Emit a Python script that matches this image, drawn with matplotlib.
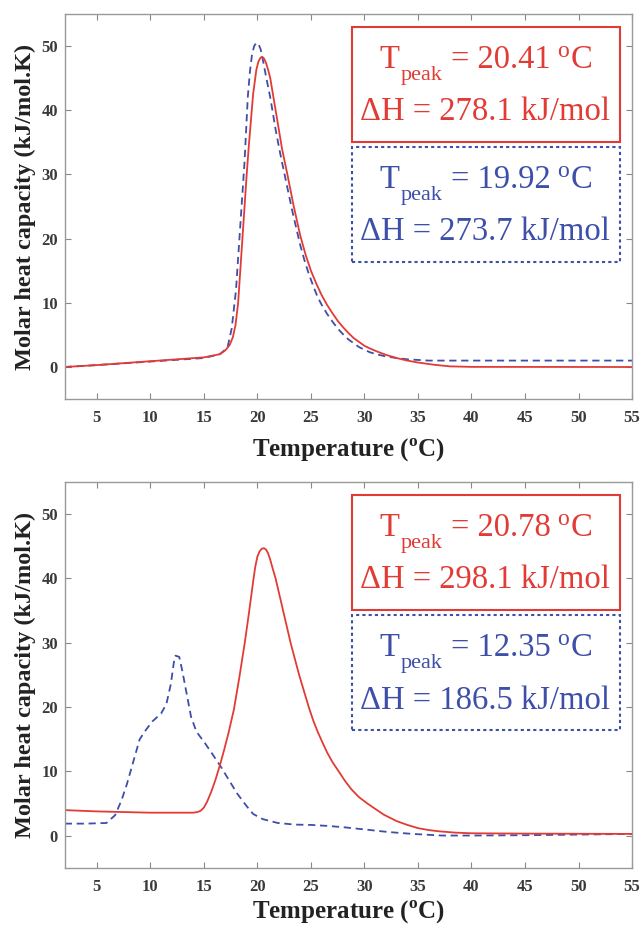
import numpy as np
import matplotlib
matplotlib.use('Agg')
import matplotlib.pyplot as plt
import matplotlib.transforms as mtransforms
from matplotlib.patches import Rectangle

plt.rcParams['font.family'] = ['Liberation Serif', 'DejaVu Serif']
plt.rcParams['mathtext.fontset'] = 'custom'
plt.rcParams['mathtext.rm'] = 'Liberation Serif'
plt.rcParams['mathtext.bf'] = 'Liberation Serif:bold'

RED = '#e23b35'
BLUE = '#3d4fa8'

# top panel, red solid curve
t_top_red = [2, 5, 10, 15, 16.5, 17.0, 17.4, 17.7, 17.95, 18.2, 18.4, 18.6, 18.8, 19.0, 19.2,
             19.4, 19.6, 19.9, 20.1, 20.3, 20.45, 20.6, 20.8, 21.0, 21.2, 21.7, 22.3, 22.8,
             23.4, 24.0, 24.5, 25.0, 25.5, 26.0, 26.5, 27.0, 27.5, 28.0, 28.5, 29.0, 29.5,
             30.0, 30.5, 31.2, 32, 33, 34, 35, 36.5, 38, 40, 55]
cp_top_red = [0, 0.3, 0.9, 1.5, 2.0, 2.6, 3.4, 4.6, 6.5, 10, 15, 20, 25, 30, 34.5,
              38.5, 42.5, 46.3, 47.6, 48.2, 48.3, 48.1, 47.4, 46.3, 45.0, 40, 34, 30,
              25, 20.5, 17.5, 15, 13, 11.2, 9.7, 8.4, 7.2, 6.2, 5.3, 4.5, 3.9,
              3.3, 2.9, 2.4, 1.9, 1.4, 1.0, 0.7, 0.35, 0.1, 0.02, 0]

# top panel, blue dashed curve
t_top_blue = [2, 5, 10, 15, 16.5, 17.2, 17.6, 18.0, 18.4, 18.8, 19.1, 19.3, 19.5, 19.7, 19.9,
              20.1, 20.3, 20.55, 20.8, 21.2, 21.7, 22.1, 22.6, 23.3, 24.0, 24.4, 24.8, 25.2,
              25.6, 26.0, 26.5, 27.0, 27.5, 28, 28.5, 29, 29.5, 30, 30.5, 31.2, 32, 33, 34,
              35, 36, 55]
cp_top_blue = [0, 0.3, 0.85, 1.4, 2.0, 3.0, 6, 12, 22, 32, 42, 46, 48.7, 50.0, 50.5,
               50.3, 49.5, 47.5, 45.3, 42, 37, 33.5, 29.5, 24, 19, 16.6, 14.5, 12.7,
               11, 9.7, 8.3, 7.1, 6, 5.1, 4.3, 3.7, 3.1, 2.7, 2.3, 1.95, 1.65, 1.4, 1.2,
               1.1, 1.0, 1.0]

# bottom panel, red solid curve
t_bot_red = [2, 5, 10, 14, 14.4, 14.7, 15.0, 15.3, 15.7, 16.1, 16.5, 16.9, 17.3, 17.8, 18.3,
             18.8, 19.2, 19.6, 19.8, 20.0, 20.2, 20.4, 20.6, 20.8, 21.0, 21.2, 21.4, 21.7,
             22.4, 23.1, 23.9, 24.8, 25.2, 25.6, 26.0, 26.5, 27.0, 27.6, 28.2, 28.8, 29.5,
             30.3, 31, 31.8, 33, 34, 35, 36, 37, 38.5, 40, 45, 55]
cp_bot_red = [4.0, 3.8, 3.6, 3.6, 3.7, 3.9, 4.4, 5.3, 6.9, 8.8, 11.0, 13.4, 16.0, 19.6, 24.5,
              29.8, 34.5, 39.5, 41.8, 43.4, 44.2, 44.6, 44.7, 44.5, 43.9, 42.9, 41.7, 40,
              35, 30, 25, 20, 18, 16.3, 14.8, 13, 11.5, 10, 8.5, 7.2, 6,
              5, 4.2, 3.3, 2.3, 1.7, 1.2, 0.9, 0.7, 0.5, 0.4, 0.35, 0.3]

# bottom panel, blue dashed curve
t_bot_blue = [2, 4, 5.9, 6.7, 7.3, 7.8, 8.4, 9.0, 9.6, 10.2, 11.0, 11.5, 11.9, 12.2, 12.35,
              12.7, 13.0, 13.4, 13.8, 14.3, 15.1, 15.8, 16.6, 17.4, 18.1, 19.0, 19.6, 20.5,
              21.9, 23.5, 25, 26.5, 28, 30, 32.2, 34.5, 37.2, 40, 45, 50, 55]
cp_bot_blue = [1.9, 1.9, 2.0, 3.2, 5.5, 8, 11.5, 15, 16.5, 17.8, 19, 20.5, 23.5, 27, 28,
               27.8, 25.5, 22, 18.5, 16.2, 14.4, 12.7, 10.7, 8.5, 6.6, 4.6, 3.4, 2.6,
               2.0, 1.75, 1.7, 1.55, 1.35, 1.0, 0.6, 0.3, 0.05, 0.05, 0.1, 0.2, 0.3]

labels_top = [('20.41', '278.1'), ('19.92', '273.7')]
labels_bot = [('20.78', '298.1'), ('12.35', '186.5')]

x_ticks = [5, 10, 15, 20, 25, 30, 35, 40, 45, 50, 55]
y_ticks = [0, 10, 20, 30, 40, 50]


def draw_pieces(ax, xc, y, pieces, col):
    # pieces: (text, fontsize, dy in px, gap after in px), centred as one line
    fig = ax.figure
    r = fig.canvas.get_renderer()
    texts = []
    widths = []
    for s, size, dy, gap in pieces:
        t = ax.text(xc, y, s, fontsize=size, color=col, ha='left', va='baseline',
                    transform=ax.transAxes, zorder=6)
        texts.append(t)
        widths.append(t.get_window_extent(r).width + gap)
    total = sum(widths) - pieces[-1][3]
    dx = -total / 2
    for t, w, p in zip(texts, widths, pieces):
        t.set_transform(mtransforms.offset_copy(ax.transAxes, fig=fig, x=dx, y=p[2], units='dots'))
        dx += w


def draw_panel(ax, tr, cr, tb, cb, labels, xpad):
    ax.plot(tb, cb, color=BLUE, lw=1.3, dashes=(4, 2.6))
    ax.plot(tr, cr, color=RED, lw=1.3)
    ax.set_xlim(2, 55)
    ax.set_ylim(-5, 55)
    ax.set_xticks(x_ticks)
    ax.set_yticks(y_ticks)
    ax.tick_params(direction='in', top=True, right=True, length=4, width=0.8,
                   color='#888888', labelsize=12, labelcolor='#3a3a3a', pad=5)
    ax.tick_params(axis='x', pad=8)
    for lab in ax.get_xticklabels() + ax.get_yticklabels():
        lab.set_fontweight('bold')
    for sp in ax.spines.values():
        sp.set_color('#999999')
        sp.set_linewidth(1.0)
    ax.set_xlabel('Temperature ($^{\\mathbf{o}}$C)', fontsize=18, fontweight='bold',
                  color='#222222', labelpad=xpad)
    ax.set_ylabel('Molar heat capacity (kJ/mol.K)', fontsize=17.5, fontweight='bold',
                  color='#222222', labelpad=4)

    # annotation boxes
    ax.add_patch(Rectangle((0.507, 0.668), 0.472, 0.299, transform=ax.transAxes,
                           fill=False, edgecolor=RED, lw=1.5, zorder=5))
    ax.add_patch(Rectangle((0.507, 0.357), 0.472, 0.298, transform=ax.transAxes,
                           fill=False, edgecolor=BLUE, lw=1.5, ls=(0, (1.5, 1.5)), zorder=5))
    for (tp, dh), col, y1, y2 in [(labels[0], RED, 0.860, 0.725), (labels[1], BLUE, 0.548, 0.413)]:
        draw_pieces(ax, 0.743, y1, [('T', 23.5, 0, 1), ('peak', 16, -12, 9),
                                    ('= ' + tp, 23.5, 0, 6), ('o', 17, 11, 2),
                                    ('C', 23.5, 0, 0)], col)
        ax.text(0.741, y2, '\u0394H = ' + dh + ' kJ/mol', transform=ax.transAxes,
                ha='center', va='baseline', fontsize=23.5, color=col, zorder=6)


fig = plt.figure(figsize=(6.41, 9.26), dpi=100)
ax1 = fig.add_axes([0.101, 0.569, 0.885, 0.416])
ax2 = fig.add_axes([0.101, 0.0626, 0.885, 0.417])

draw_panel(ax1, t_top_red, cp_top_red, t_top_blue, cp_top_blue, labels_top, 8)
draw_panel(ax2, t_bot_red, cp_bot_red, t_bot_blue, cp_bot_blue, labels_bot, 3)

fig.savefig('out.png', dpi=100)
